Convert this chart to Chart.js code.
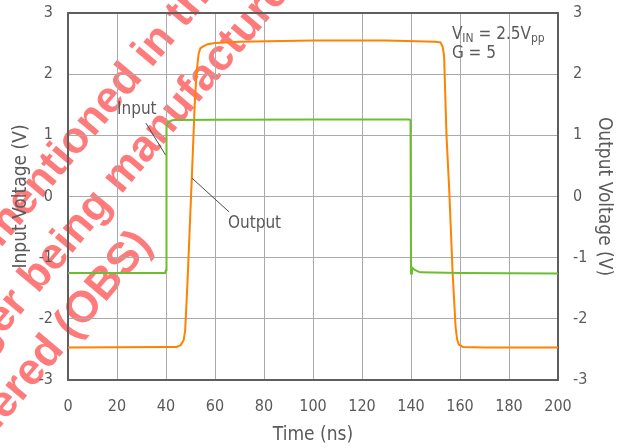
<!DOCTYPE html>
<html>
<head>
<meta charset="utf-8">
<script src="https://cdn.jsdelivr.net/npm/chart.js@4.4.1/dist/chart.umd.min.js"></script>
<style>
    body { margin: 0; background: #fff; }
    #conteneur { width: 617px; height: 448px; position: relative; }
</style>
</head>
<body>
<div id="conteneur"><canvas id="graphique"></canvas></div>
<script>
// Données (temps en ns, tensions en V)
const tempsEntree = [0, 39.6, 40.0, 40.2, 40.6, 41.5, 43, 60, 100, 139.5, 139.8, 140.0, 140.4, 141.5, 143.7, 160, 200]
const tensionEntree = [-1.25, -1.25, -1.2, 1.15, 1.2, 1.23, 1.25, 1.255, 1.26, 1.26, 1.24, -1.26, -1.16, -1.2, -1.24, -1.25, -1.26]

const tempsSortie = [0, 40, 44.4, 46, 47.2, 47.8, 48.3, 48.7, 50.5, 51.8, 52.5, 53.3, 54, 55, 57, 60, 70, 100, 130, 150, 152, 152.9, 153.5, 154.5, 155.6, 157.0, 158.2, 158.8, 159.5, 161.3, 170, 200]
const tensionSortie = [-2.47, -2.46, -2.46, -2.43, -2.35, -2.2, -1.8, -1.47, 0.27, 1.58, 2.02, 2.33, 2.42, 2.45, 2.49, 2.51, 2.53, 2.55, 2.55, 2.53, 2.52, 2.45, 2.3, 0.99, 0.11, -1.26, -2.13, -2.33, -2.42, -2.46, -2.47, -2.47]

const graduationsTemps = [0, 20, 40, 60, 80, 100, 120, 140, 160, 180, 200]
const graduationsTension = [-3, -2, -1, 0, 1, 2, 3]

const POLICE = "'DejaVu Sans Condensed', 'DejaVu Sans', sans-serif"
const GRIS = "#5a5a5a"

const pointsEntree = tempsEntree.map((t, i) => ({ x: t, y: tensionEntree[i] }))
const pointsSortie = tempsSortie.map((t, i) => ({ x: t, y: tensionSortie[i] }))

function fixerGraduations(valeurs) {
    return (scale) => {
        scale.ticks = valeurs.map(v => ({ value: v }))
    }
}

// largeur fixe de l'axe vertical, sans la marge ajoutée pour les libellés du haut et du bas
function fixerLargeur(largeur) {
    return (scale) => {
        scale.width = largeur
        scale.paddingTop = 0
        scale.paddingBottom = 0
    }
}

// filigrane rouge en diagonale, sous tout le reste
const filigrane = {
    id: "filigrane",
    beforeDraw(chart) {
        const ctx = chart.ctx
        const lignes = [
            ["The products ", "mentioned in this document", -190, 160],
            ["are no long", "er being manufactured", -255, 218],
            ["and are consid", "ered (OBS)", -319, 275]
        ]
        ctx.save()
        ctx.rotate(-50 * Math.PI / 180)
        ctx.fillStyle = "rgba(255, 40, 40, 0.62)"
        ctx.font = "bold 44px 'Liberation Sans', Arial, sans-serif"
        ctx.textBaseline = "alphabetic"
        for (const [avant, apres, u, v] of lignes) {
            ctx.textAlign = "right"
            ctx.fillText(avant, u, v)
            ctx.textAlign = "left"
            ctx.fillText(apres, u, v)
        }
        ctx.restore()
    }
}

// cadre + étiquettes des courbes + conditions de mesure
const annotations = {
    id: "annotations",
    beforeDatasetsDraw(chart) {
        const { ctx, chartArea } = chart
        ctx.save()
        ctx.strokeStyle = "#5e5e5e"
        ctx.lineWidth = 2
        ctx.strokeRect(chartArea.left, chartArea.top, chartArea.right - chartArea.left, chartArea.bottom - chartArea.top)
        ctx.restore()
    },
    afterDatasetsDraw(chart) {
        const { ctx } = chart
        const x = chart.scales.x
        const y = chart.scales.y
        const px = t => x.getPixelForValue(t)
        const py = v => y.getPixelForValue(v)

        ctx.save()
        ctx.strokeStyle = "#4a4a4a"
        ctx.lineWidth = 1
        ctx.beginPath()
        ctx.moveTo(px(31.8), py(1.2))
        ctx.lineTo(px(39.8), py(0.68))
        ctx.moveTo(px(50.6), py(0.3))
        ctx.lineTo(px(65.7), py(-0.25))
        ctx.stroke()

        ctx.fillStyle = GRIS
        ctx.textAlign = "left"
        ctx.textBaseline = "alphabetic"
        ctx.font = "17px " + POLICE
        ctx.fillText("Input", px(20), py(1.35))
        ctx.fillText("Output", px(65.3), py(-0.515))

        // V_IN = 2.5V_pp
        let xx = px(156.7)
        const yy = py(2.575)
        ctx.font = "17px " + POLICE
        ctx.fillText("V", xx, yy)
        xx += ctx.measureText("V").width
        ctx.font = "12px " + POLICE
        ctx.fillText("IN", xx, yy + 3)
        xx += ctx.measureText("IN").width
        ctx.font = "17px " + POLICE
        ctx.fillText(" = 2.5V", xx, yy)
        xx += ctx.measureText(" = 2.5V").width
        ctx.font = "12px " + POLICE
        ctx.fillText("pp", xx, yy + 3)
        ctx.font = "17px " + POLICE
        ctx.fillText("G = 5", px(156.7), py(2.264))
        ctx.restore()
    }
}

const policeGraduation = { family: POLICE, size: 16 }
const policeTitre = { family: POLICE, size: 19 }

const config = {
    type: "line",
    data: {
        datasets: [{
            label: "Input",
            data: pointsEntree,
            borderColor: "#6abf2e",
            borderWidth: 2,
            pointRadius: 0,
            yAxisID: "y"
        }, {
            label: "Output",
            data: pointsSortie,
            borderColor: "#ff8200",
            borderWidth: 2,
            pointRadius: 0,
            yAxisID: "y2"
        }]
    },
    options: {
        responsive: true,
        maintainAspectRatio: false,
        animation: false,
        layout: { padding: { top: 13, left: 0, right: 0, bottom: 0 } },
        plugins: {
            legend: { display: false },
            tooltip: { enabled: false }
        },
        scales: {
            x: {
                type: "linear",
                min: 0,
                max: 200,
                afterBuildTicks: fixerGraduations(graduationsTemps),
                afterFit: (s) => { s.height = 68 },
                grid: { color: "#aaaaaa", drawTicks: false },
                border: { display: false },
                ticks: { padding: 17, color: GRIS, font: policeGraduation, maxRotation: 0 },
                title: { display: true, text: "Time (ns)", color: GRIS, font: policeTitre, padding: { top: 0, bottom: 2 } }
            },
            y: {
                position: "left",
                min: -3,
                max: 3,
                afterBuildTicks: fixerGraduations(graduationsTension),
                afterFit: fixerLargeur(68),
                grid: { color: "#aaaaaa", drawTicks: false },
                border: { display: false },
                ticks: { padding: 15, color: GRIS, font: policeGraduation },
                title: { display: true, text: "Input Voltage (V)", color: GRIS, font: policeTitre, padding: { top: 10, bottom: 0 } }
            },
            y2: {
                position: "right",
                min: -3,
                max: 3,
                afterBuildTicks: fixerGraduations(graduationsTension),
                afterFit: fixerLargeur(59),
                grid: { display: false, drawTicks: false },
                border: { display: false },
                ticks: { padding: 15, color: GRIS, font: policeGraduation },
                title: { display: true, text: "Output Voltage (V)", color: GRIS, font: policeTitre, padding: { top: 2, bottom: 0 } }
            }
        }
    },
    plugins: [filigrane, annotations]
}

const graphique = new Chart(document.querySelector("#graphique"), config)
</script>
</body>
</html>
